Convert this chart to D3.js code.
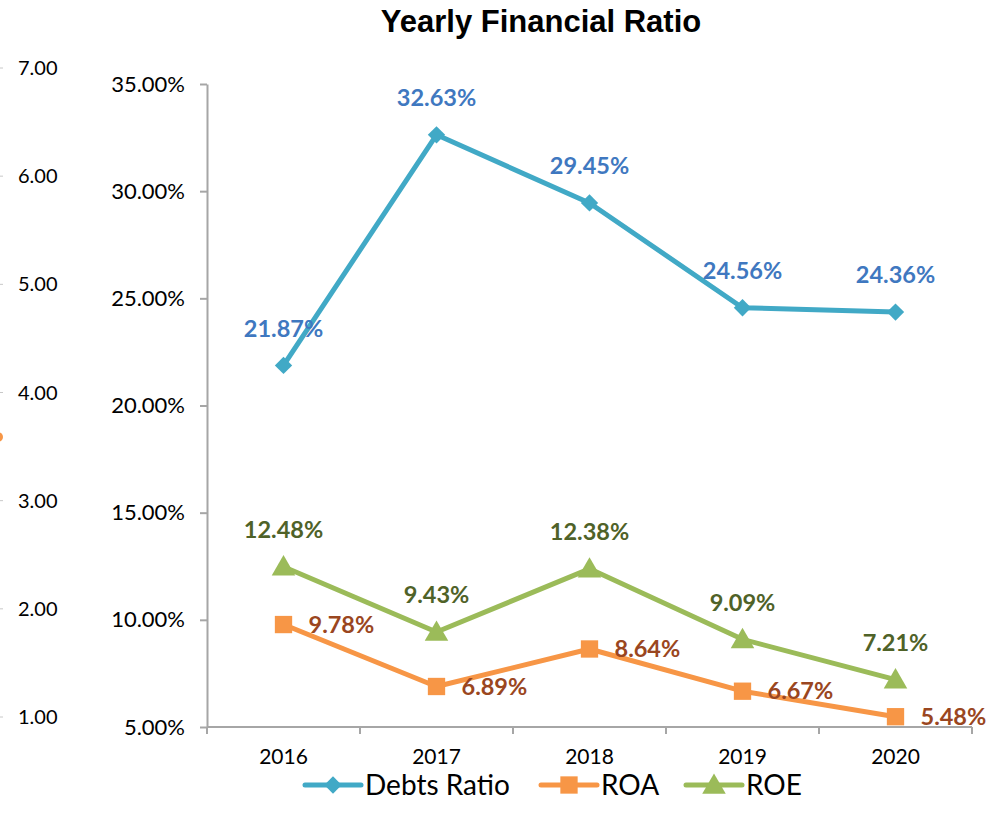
<!DOCTYPE html>
<html lang="en">
  <head>
    <meta charset="utf-8">
    <script type="text/javascript" src="https://cdn.jsdelivr.net/npm/d3@7"></script>
    <style>
      body { margin: 0; background: #fff; }
      text { font-family: Lato, "Open Sans", sans-serif; }
    </style>
  </head>
  <body>
    <svg class="chart"></svg>
  </body>
  <script type="text/javascript">
    var years = ['2016', '2017', '2018', '2019', '2020'];
    var debtsRatio = [21.87, 32.63, 29.45, 24.56, 24.36];
    var roa = [9.78, 6.89, 8.64, 6.67, 5.48];
    var roe = [12.48, 9.43, 12.38, 9.09, 7.21];
    var leftTicks = [5, 10, 15, 20, 25, 30, 35];
    var farTicks = [1, 2, 3, 4, 5, 6, 7];

    var series = [
      {name: 'Debts Ratio', values: debtsRatio, line: '#41a9c6', label: '#3f78c0', marker: 'diamond', pos: 'top'},
      {name: 'ROA', values: roa, line: '#f79646', label: '#9a4620', marker: 'square', pos: 'right'},
      {name: 'ROE', values: roe, line: '#9bbb59', label: '#4f6228', marker: 'triangle', pos: 'top'}
    ];

    var svg = d3.select('.chart').attr('width', 1002).attr('height', 827);

    var margins = {top: 84, left: 207, right: 30, bottom: 100};
    var width = 1002 - margins.left - margins.right;
    var height = 827 - margins.top - margins.bottom;

    var xScale = d3.scaleBand().domain(years).range([0, width]);
    var yScale = d3.scaleLinear().domain([5, 35]).range([height, 0]);
    var farScale = d3.scaleLinear().domain([1, 7]).range([717, 68]);

    var axisColor = '#a6a6a6';

    svg.append('text')
       .attr('x', 541).attr('y', 32)
       .attr('text-anchor', 'middle')
       .style('font-family', '"Liberation Sans", Arial, sans-serif')
       .style('font-weight', 'bold')
       .style('font-size', '31px')
       .text('Yearly Financial Ratio');

    // leftover secondary axis at the far left edge
    var far = svg.append('g').classed('farAxis', true);
    far.selectAll('line').data(farTicks).enter().append('line')
       .attr('x1', 0).attr('x2', 3)
       .attr('y1', function(d){ return farScale(d); })
       .attr('y2', function(d){ return farScale(d); })
       .attr('stroke', '#c8c8c8');
    far.selectAll('text').data(farTicks).enter().append('text')
       .attr('x', 18)
       .attr('y', function(d){ return farScale(d); })
       .attr('dy', '0.35em')
       .style('font-size', '20px')
       .text(function(d){ return d.toFixed(2); });
    svg.append('circle').attr('cx', -2).attr('cy', 437).attr('r', 5).attr('fill', '#f79646');

    var plot = svg.append('g')
                  .attr('transform', 'translate(' + margins.left + ',' + margins.top + ')');

    // y axis
    var yAxis = d3.axisLeft(yScale).tickValues(leftTicks).tickSize(7).tickSizeOuter(0)
                  .tickFormat(function(d){ return d.toFixed(2) + '%'; });
    var yG = plot.append('g').call(yAxis);
    yG.select('.domain').attr('stroke', axisColor).attr('stroke-width', 2);
    yG.selectAll('.tick line').attr('stroke', axisColor).attr('stroke-width', 2);
    yG.selectAll('.tick text').attr('x', -22).attr('fill', '#000').style('font-size', '22px')
      .style('font-family', 'Lato, sans-serif');

    // x axis with ticks on category boundaries
    var xG = plot.append('g').attr('transform', 'translate(0,' + height + ')');
    xG.append('line').attr('x1', 0).attr('x2', width).attr('stroke', axisColor).attr('stroke-width', 2);
    var bounds = years.map(function(d){ return xScale(d); }).concat([width]);
    xG.selectAll('.bt').data(bounds).enter().append('line')
      .attr('x1', function(d){ return d; }).attr('x2', function(d){ return d; })
      .attr('y1', 0).attr('y2', 7)
      .attr('stroke', axisColor).attr('stroke-width', 2);
    xG.selectAll('.yl').data(years).enter().append('text')
      .attr('x', function(d){ return xScale(d) + xScale.bandwidth() / 2; })
      .attr('y', 37)
      .attr('text-anchor', 'middle')
      .style('font-size', '21px')
      .text(function(d){ return d; });

    var cx = function(i){ return xScale(years[i]) + xScale.bandwidth() / 2; };

    var symbolFor = function(m){
      if (m === 'diamond') return d3.symbol().type(d3.symbolSquare).size(150)();
      if (m === 'square') return d3.symbol().type(d3.symbolSquare).size(300)();
      return d3.symbol().type(d3.symbolTriangle).size(240)();
    };

    var line = d3.line()
                 .x(function(d, i){ return cx(i); })
                 .y(function(d){ return yScale(d); });

    series.forEach(function(s){
      var g = plot.append('g');
      g.append('path').datum(s.values)
       .attr('d', line)
       .attr('fill', 'none')
       .attr('stroke', s.line)
       .attr('stroke-width', 5)
       .attr('stroke-linejoin', 'round');
      g.selectAll('path.m').data(s.values).enter().append('path')
       .attr('class', 'm')
       .attr('d', symbolFor(s.marker))
       .attr('fill', s.line)
       .attr('transform', function(d, i){
         var t = 'translate(' + cx(i) + ',' + yScale(d) + ')';
         if (s.marker === 'diamond') t += ' rotate(45)';
         if (s.marker === 'triangle') t += ' translate(0,2)';
         return t;
       });
      g.selectAll('text').data(s.values).enter().append('text')
       .attr('x', function(d, i){ return s.pos === 'top' ? cx(i) : cx(i) + 25; })
       .attr('y', function(d){ return s.pos === 'top' ? yScale(d) - 37 : yScale(d); })
       .attr('dy', '0.35em')
       .attr('text-anchor', s.pos === 'top' ? 'middle' : 'start')
       .attr('fill', s.label)
       .style('font-weight', 'bold')
       .style('font-size', '23.5px')
       .text(function(d){ return d.toFixed(2) + '%'; });
    });

    // legend
    var legendX = [305, 541, 686];
    var legend = svg.append('g').attr('transform', 'translate(0,785)');
    var items = legend.selectAll('g').data(series).enter().append('g')
                      .attr('transform', function(d, i){ return 'translate(' + legendX[i] + ',0)'; });
    items.append('line').attr('x1', 0).attr('x2', 56)
         .attr('stroke', function(d){ return d.line; })
         .attr('stroke-width', 5).attr('stroke-linecap', 'round');
    items.append('path')
         .attr('d', function(d){ return symbolFor(d.marker); })
         .attr('fill', function(d){ return d.line; })
         .attr('transform', function(d){
           var t = 'translate(28,0)';
           if (d.marker === 'diamond') t += ' rotate(45)';
           if (d.marker === 'triangle') t += ' translate(0,2)';
           return t;
         });
    items.append('text').attr('x', 60).attr('dy', '0.35em')
         .style('font-size', '28px')
         .text(function(d){ return d.name; });
  </script>
</html>
